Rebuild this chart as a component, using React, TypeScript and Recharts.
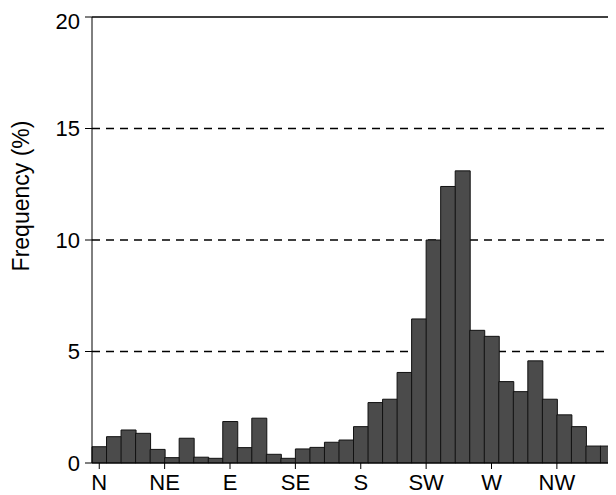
import { BarChart, Bar, XAxis, YAxis, CartesianGrid, ReferenceLine } from 'recharts';

// 10-degree direction bins, centred on 0, 10, ... 350
const directions = [
  0, 10, 20, 30, 40, 50, 60, 70, 80, 90, 100, 110, 120, 130, 140, 150, 160, 170,
  180, 190, 200, 210, 220, 230, 240, 250, 260, 270, 280, 290, 300, 310, 320, 330, 340, 350,
];
const frequency = [
  0.73, 1.18, 1.48, 1.33, 0.61, 0.24, 1.11, 0.26, 0.21, 1.86, 0.69, 2.01, 0.39, 0.21, 0.63, 0.7, 0.93, 1.03,
  1.63, 2.71, 2.86, 4.06, 6.46, 10.0, 12.4, 13.1, 5.95, 5.68, 3.65, 3.2, 4.58, 2.86, 2.16, 1.63, 0.76, 0.76,
];
const compassTicks = [0, 45, 90, 135, 180, 225, 270, 315];
const compassLabels = ['N', 'NE', 'E', 'SE', 'S', 'SW', 'W', 'NW'];
const yTicks = [0, 5, 10, 15, 20];

const data = directions.map((dir, i) => ({ dir, freq: frequency[i] }));

const font = '"Liberation Sans", Arial, sans-serif';

export default function App() {
  return (
    <BarChart
      width={608}
      height={487}
      data={data}
      margin={{ top: 9, right: 1, left: 0, bottom: 2 }}
      barCategoryGap={0}
      style={{ fontFamily: font }}
    >
      <CartesianGrid
        vertical={false}
        horizontalValues={[5, 10, 15]}
        stroke="#000"
        strokeWidth={1.5}
        strokeDasharray="8 6"
      />
      <XAxis
        dataKey="dir"
        type="number"
        domain={[-5, 355]}
        ticks={compassTicks}
        interval={0}
        height={30}
        tickFormatter={(v: number) => compassLabels[compassTicks.indexOf(v)]}
        tickSize={6}
        tickMargin={5}
        stroke="#000"
        tick={{ fill: '#000', fontSize: 22, fontFamily: font }}
      />
      <YAxis
        type="number"
        domain={[0, 20]}
        ticks={yTicks}
        width={84}
        tickSize={7}
        tickMargin={5}
        stroke="#000"
        tick={{ fill: '#000', fontSize: 22, fontFamily: font }}
        label={{
          content: () => (
            <text
              x={21}
              y={188}
              transform="rotate(-90, 21, 188)"
              textAnchor="middle"
              fill="#000"
              fontSize={23}
              fontFamily={font}
            >
              Frequency (%)
            </text>
          ),
        }}
      />
      <ReferenceLine y={20} stroke="#000" strokeWidth={1.5} />
      <ReferenceLine x={355} stroke="#999" strokeWidth={1} />
      <Bar dataKey="freq" fill="#4b4b4b" stroke="#111" strokeWidth={1} isAnimationActive={false} />
    </BarChart>
  );
}
